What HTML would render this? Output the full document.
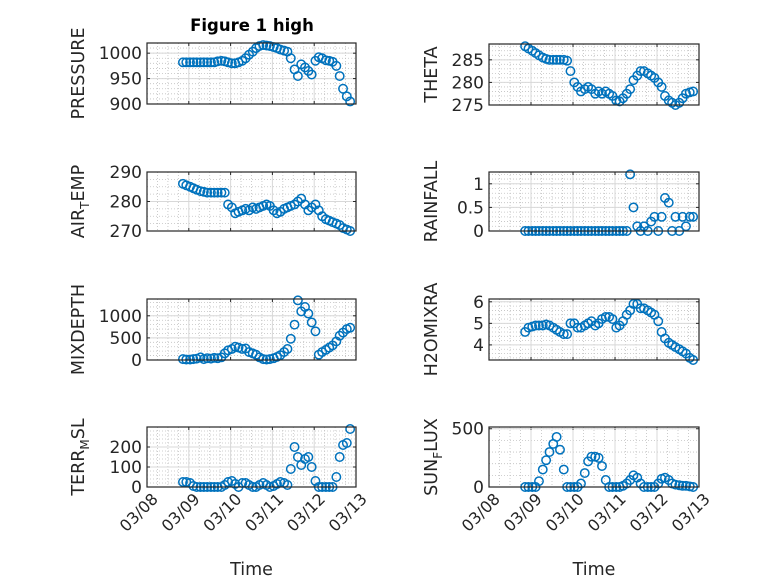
<!DOCTYPE html>
<html><head><meta charset="utf-8"><style>
html,body{margin:0;padding:0;background:#fff;}
svg{display:block;font-family:"DejaVu Sans","Liberation Sans",sans-serif;}
</style></head><body>
<svg id="fig" width="778" height="583" viewBox="0 0 778 583" xmlns="http://www.w3.org/2000/svg">
<rect width="778" height="583" fill="#fff"/>
<text x="252" y="31" text-anchor="middle" font-size="16.5" font-weight="bold" fill="#000">Figure 1 high</text>
</svg>
<script>
// Shared time axis (days since 03/08 00:00)
const times = [0.86,0.94,1.03,1.11,1.19,1.28,1.36,1.44,1.53,1.61,1.69,1.78,1.86,1.94,2.03,2.11,2.19,2.28,2.36,2.44,2.53,2.61,2.69,2.78,2.86,2.94,3.03,3.11,3.19,3.28,3.36,3.44,3.53,3.61,3.69,3.78,3.86,3.94,4.03,4.11,4.19,4.28,4.36,4.44,4.53,4.61,4.69,4.78,4.86];
const xTickLabels = ["03/08","03/09","03/10","03/11","03/12","03/13"];
const pressure = [982,982,982,982,982,982,982,982,982,982,984,985,984,982,980,980,982,985,990,997,1003,1010,1014,1016,1015,1014,1012,1010,1007,1005,1003,990,968,955,978,972,965,958,985,992,990,986,985,983,975,955,930,915,905];
const airTemp = [286,285.5,285,284.5,284,283.5,283.3,283,283,283,283,283,283,279,278,276,276.5,277,277.5,277,278,277.5,278,278.5,279,278.5,277,276,276.5,277.5,278,278.5,279,280,281,279,277,278,279,277,275,274,273.5,273,272.5,272,271,270.5,270];
const mixDepth = [20,10,10,20,30,60,20,40,30,50,40,60,150,220,250,300,280,250,260,180,150,120,60,20,10,20,40,70,110,180,250,480,800,1350,1100,1200,1050,850,650,120,180,230,280,330,420,550,620,700,730];
const terrMsl = [25,25,20,5,0,0,0,0,0,0,0,0,10,25,30,15,0,20,20,10,0,0,10,20,10,0,5,15,25,20,10,90,200,150,110,140,150,100,30,0,0,0,0,0,50,150,210,220,290];
const theta = [288,287.5,287,286.5,286,285.5,285.2,285,285,285,285,285,284.8,282.5,280,279,278,278.5,279,278.5,277.5,278,277.5,278,277.5,277,276,275.8,276.5,277.5,278.5,280.5,281.5,282.5,282.5,282,281.5,281,280,279,277,276,275.5,275,275.5,276.5,277.5,277.8,278];
const rainfall = [0,0,0,0,0,0,0,0,0,0,0,0,0,0,0,0,0,0,0,0,0,0,0,0,0,0,0,0,0,0,1.2,0.5,0.1,0,0.1,0,0.2,0.3,0,0.3,0.7,0.6,0,0.3,0,0.3,0.1,0.3,0.3];
const h2oMix = [4.6,4.8,4.85,4.9,4.9,4.9,4.95,4.9,4.8,4.7,4.6,4.5,4.5,5.0,5.0,4.8,4.8,4.9,5.0,5.1,4.9,5.0,5.2,5.3,5.3,5.2,4.8,4.9,5.1,5.4,5.6,5.9,5.9,5.7,5.7,5.6,5.5,5.4,5.1,4.6,4.3,4.1,4.0,3.9,3.8,3.7,3.6,3.4,3.3];
const sunFlux = [0,0,0,0,50,150,230,300,370,430,320,150,0,0,0,0,30,120,220,260,260,250,180,60,0,0,0,0,10,30,60,100,80,30,0,0,0,0,30,70,80,60,30,20,15,10,10,5,0];
const pressureTicks = [900,950,1000];
const airTempTicks = [270,280,290];
const mixDepthTicks = [0,500,1000];
const terrTicks = [0,100,200];
const thetaTicks = [275,280,285];
const rainTicks = [0,0.5,1];
const h2oTicks = [4,5,6];
const sunTicks = [0,500];

const NS = "http://www.w3.org/2000/svg";
const svg = document.getElementById("fig");
function mk(tag, attrs, parent){const e=document.createElementNS(NS,tag);for(const k in attrs)e.setAttribute(k,attrs[k]);(parent||svg).appendChild(e);return e;}

function panel(o){
  const g = mk("g",{});
  
  
  const {x0,x1,y0,y1,ymin,ymax} = o;
  const xs = t => x0 + (t-0)/(5-0)*(x1-x0);
  const ys = v => y1 - (v-ymin)/(ymax-ymin)*(y1-y0);
  mk("rect",{x:x0,y:y0,width:x1-x0,height:y1-y0,fill:"#fff"},g);
  for(let d=0; d<5; d++) for(let k=1;k<4;k++){
    const xx = xs(d+k/4);
    const l = mk("line",{x1:xx,x2:xx,y1:y0,y2:y1,stroke:"#c0c0c0","stroke-width":0.8,"stroke-dasharray":"1 2"},g);
    
    
  }
  const step = o.ticks.length>1 ? o.ticks[1]-o.ticks[0] : 500;
  const ms = step/o.minorDiv;
  for(let v=Math.ceil(ymin/ms)*ms; v<=ymax+1e-9; v+=ms){
    const yy = ys(v);
    const l = mk("line",{x1:x0,x2:x1,y1:yy,y2:yy,stroke:"#c0c0c0","stroke-width":0.8,"stroke-dasharray":"1 2"},g);
    
    
  }
  xTickLabels.forEach((lab,i)=>{
    const xx = xs(i);
    const l = mk("line",{x1:xx,x2:xx,y1:y0,y2:y1,stroke:"#d8d8d8","stroke-width":1},g);
    
    
    mk("line",{x1:xx,x2:xx,y1:y1,y2:y1-3,stroke:"#262626"},g);
    mk("line",{x1:xx,x2:xx,y1:y0,y2:y0+3,stroke:"#262626"},g);
    if(o.xlabels){
      const ax = xx+12, ay = y1+13;
      const t = mk("text",{x:ax,y:ay,"text-anchor":"end","font-size":16,fill:"#262626",transform:`rotate(-45 ${ax} ${ay})`},g);
      t.textContent = lab;
      
      
    }
  });
  o.ticks.forEach(v=>{
    const yy = ys(v);
    const l = mk("line",{x1:x0,x2:x1,y1:yy,y2:yy,stroke:"#d8d8d8","stroke-width":1},g);
    
    
    mk("line",{x1:x0,x2:x0+3,y1:yy,y2:yy,stroke:"#262626"},g);
    mk("line",{x1:x1,x2:x1-3,y1:yy,y2:yy,stroke:"#262626"},g);
    const t = mk("text",{x:x0-5,y:yy+6,"text-anchor":"end","font-size":17,fill:"#262626"},g);
    t.textContent = String(v);
    
    
  });
  o.values.forEach((v,i)=>{
    const c = mk("circle",{cx:xs(times[i]),cy:ys(v),r:4.2,fill:"none",stroke:"#0072BD","stroke-width":1.5},g);
    
    
  });
  const b = mk("rect",{x:x0,y:y0,width:x1-x0,height:y1-y0,fill:"none",stroke:"#262626","stroke-width":1.2},g);
  
  
  const cy = (y0+y1)/2;
  const t = mk("text",{x:o.lx,y:cy,"text-anchor":"middle","font-size":17.5,fill:"#262626",transform:`rotate(-90 ${o.lx} ${cy})`},g);
  
  
  if(o.sub){
    const a = mk("tspan",{},t); a.textContent=o.sub[0];
    const s = mk("tspan",{dy:5,"font-size":12},t); s.textContent=o.sub[1];
    const r = mk("tspan",{dy:-5},t); r.textContent=o.sub[2];
  } else t.textContent = o.label;
  if(o.xlabels){
    const tt = mk("text",{x:(x0+x1)/2,y:575,"text-anchor":"middle","font-size":17.5,fill:"#262626"},g);
    tt.textContent = "Time";
    
    
  }
}
const L=[147,356], R=[489,699];
panel({name:"pressure",x0:L[0],x1:L[1],y0:43,y1:104,ymin:900,ymax:1020,ticks:pressureTicks,minorDiv:5,values:pressure,lx:84,label:"PRESSURE"});
panel({name:"air-temp",x0:L[0],x1:L[1],y0:172,y1:231,ymin:270,ymax:290,ticks:airTempTicks,minorDiv:4,values:airTemp,lx:84,sub:["AIR","T","EMP"]});
panel({name:"mix-depth",x0:L[0],x1:L[1],y0:299,y1:360,ymin:0,ymax:1380,ticks:mixDepthTicks,minorDiv:5,values:mixDepth,lx:84,label:"MIXDEPTH"});
panel({name:"terr-msl",x0:L[0],x1:L[1],y0:427,y1:487,ymin:0,ymax:300,ticks:terrTicks,minorDiv:5,values:terrMsl,lx:84,sub:["TERR","M","SL"],xlabels:true});
panel({name:"theta",x0:R[0],x1:R[1],y0:44,y1:105,ymin:275,ymax:288.5,ticks:thetaTicks,minorDiv:5,values:theta,lx:437,label:"THETA"});
panel({name:"rainfall",x0:R[0],x1:R[1],y0:172,y1:231,ymin:0,ymax:1.25,ticks:rainTicks,minorDiv:5,values:rainfall,lx:437,label:"RAINFALL"});
panel({name:"h2o-mix",x0:R[0],x1:R[1],y0:299,y1:360,ymin:3.3,ymax:6.13,ticks:h2oTicks,minorDiv:5,values:h2oMix,lx:437,label:"H2OMIXRA"});
panel({name:"sun-flux",x0:R[0],x1:R[1],y0:427,y1:487,ymin:0,ymax:515,ticks:sunTicks,minorDiv:5,values:sunFlux,lx:437,sub:["SUN","F","LUX"],xlabels:true});
</script>
</body></html>
